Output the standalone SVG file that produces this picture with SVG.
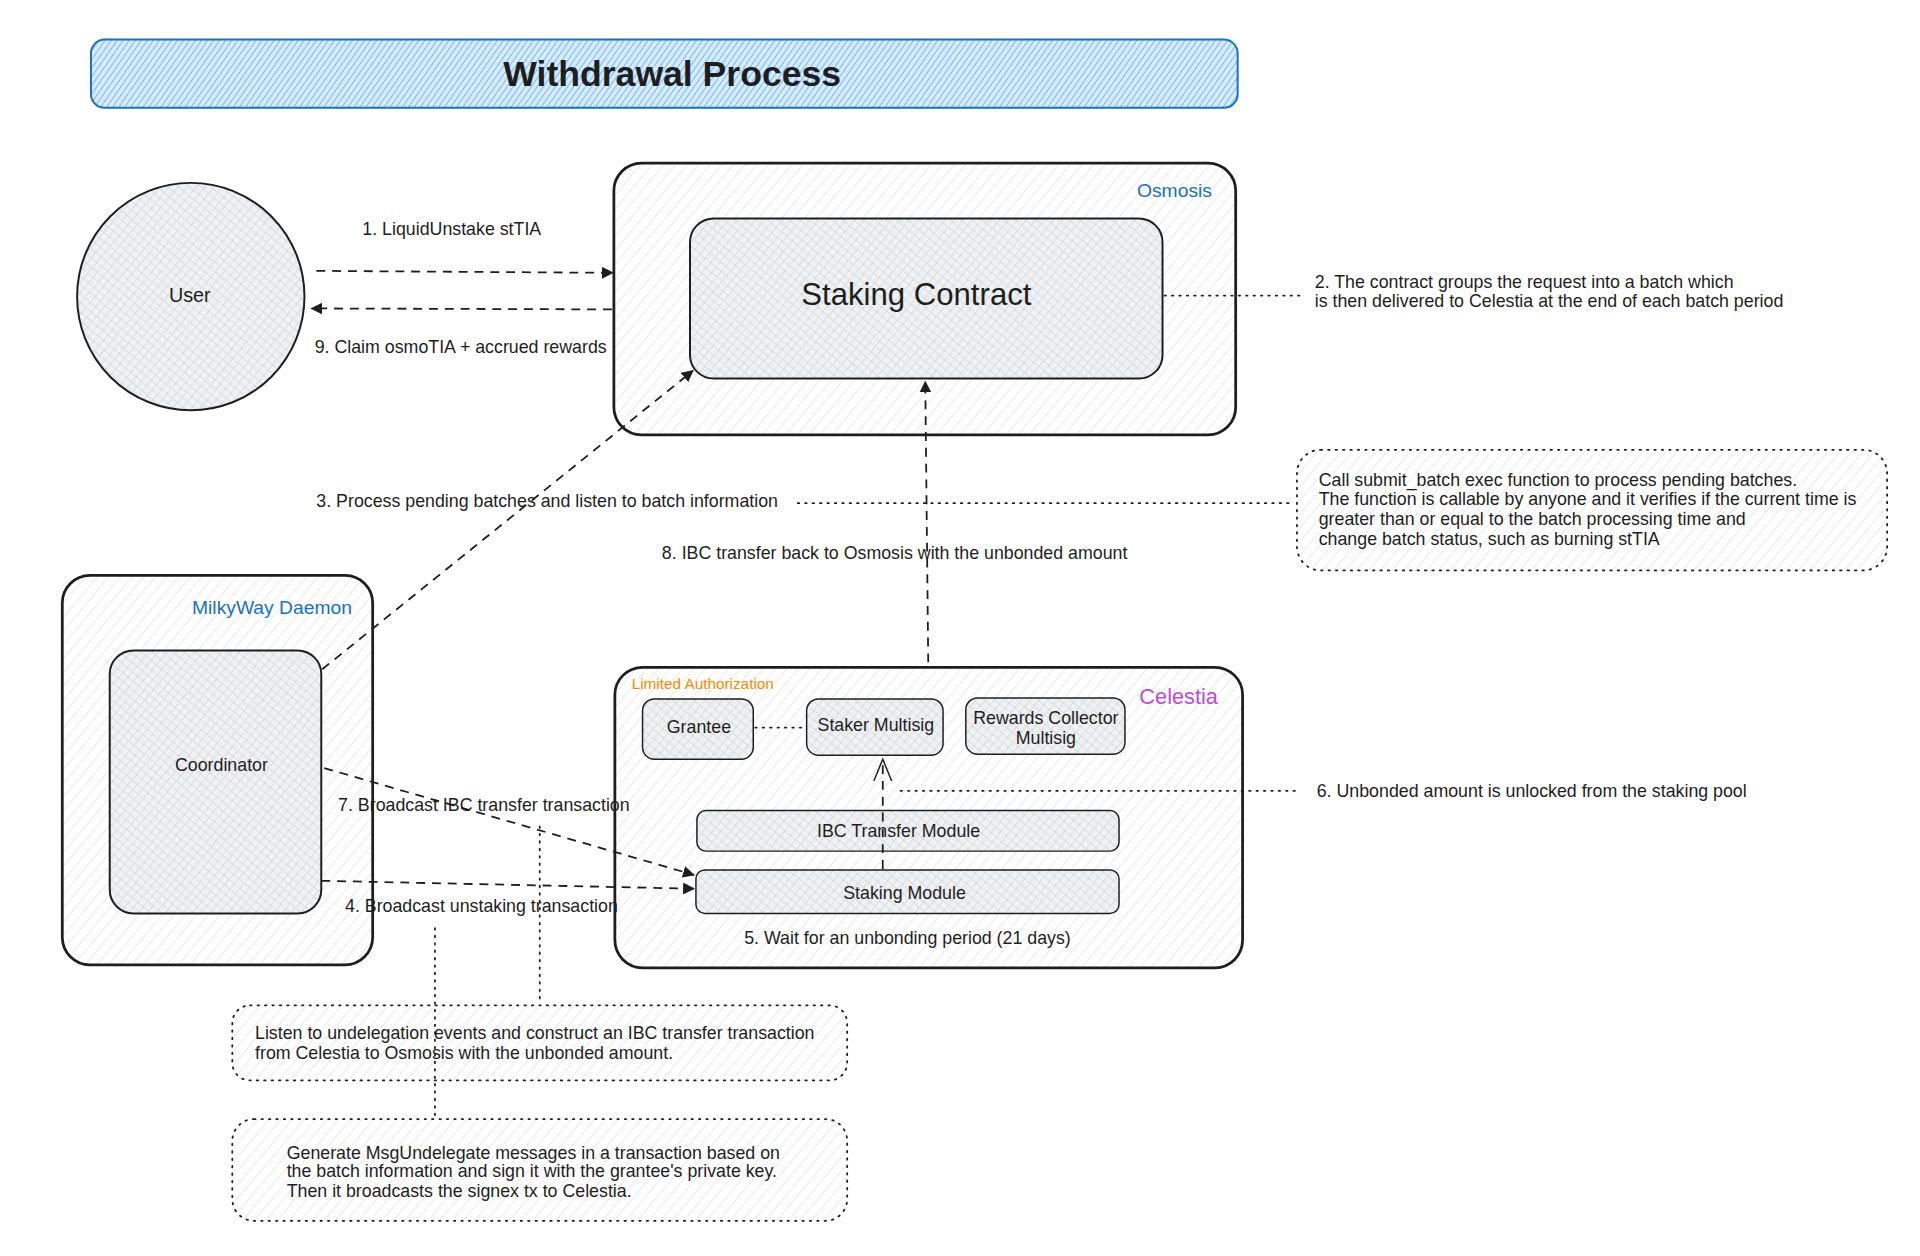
<svg xmlns="http://www.w3.org/2000/svg" width="1920" height="1256" viewBox="0 0 1920 1256">
<defs>
<pattern id="hatch" width="9" height="9" patternUnits="userSpaceOnUse" patternTransform="rotate(40)">
<line x1="0" y1="0" x2="0" y2="9" stroke="#d9dcdf" stroke-width="1.2"/>
</pattern>
<pattern id="cross" width="7" height="7" patternUnits="userSpaceOnUse" patternTransform="rotate(40)">
<rect width="7" height="7" fill="#eef0f2"/>
<line x1="0" y1="0" x2="0" y2="7" stroke="#c9ced3" stroke-width="1"/>
<line x1="0" y1="0" x2="7" y2="0" stroke="#c9ced3" stroke-width="1"/>
</pattern>
<pattern id="blue" width="5" height="5" patternUnits="userSpaceOnUse" patternTransform="rotate(35)">
<rect width="5" height="5" fill="#d6ebff"/>
<line x1="0" y1="0" x2="0" y2="5" stroke="#4a9cf0" stroke-width="1.3"/>
</pattern>
<marker id="tri" viewBox="0 0 12 12" refX="11" refY="6" markerWidth="12" markerHeight="12" markerUnits="userSpaceOnUse" orient="auto">
<path d="M0,0 L12,6 L0,12 z" fill="#1e1e1e"/>
</marker>
<marker id="open" viewBox="0 0 24 24" refX="22" refY="12" markerWidth="24" markerHeight="24" markerUnits="userSpaceOnUse" orient="auto">
<path d="M0,3 L22,12 L0,21" fill="none" stroke="#1e1e1e" stroke-width="1.5"/>
</marker>
</defs>
<style>
text{font-family:"Liberation Sans","DejaVu Sans",sans-serif;fill:#1e1e1e}
.t{font-size:18px}
.m{font-size:18px;text-anchor:middle}
.outer{fill:url(#hatch);stroke:#1e1e1e;stroke-width:2.8}
.inner{fill:url(#cross);stroke:#1e1e1e;stroke-width:2}
.small{fill:url(#cross);stroke:#1e1e1e;stroke-width:1.5}
.note{fill:url(#hatch);stroke:#1e1e1e;stroke-width:1.8;stroke-dasharray:1.5 6;stroke-linecap:round}
.dash{fill:none;stroke:#1e1e1e;stroke-width:1.8;stroke-dasharray:9 7}
.dot{fill:none;stroke:#1e1e1e;stroke-width:1.8;stroke-dasharray:1.5 6;stroke-linecap:round}
</style>
<rect width="1920" height="1256" fill="#ffffff"/>
<g id="diagram" transform="scale(0.98854)">

<g id="title">
<rect x="92" y="40" width="1160" height="69" rx="14" fill="url(#blue)" stroke="#1971c2" stroke-width="2"/>
<text x="680" y="87" font-size="36" text-anchor="middle" font-weight="bold">Withdrawal Process</text>
</g>

<g id="user">
<circle cx="193" cy="300" r="115" fill="url(#cross)" stroke="#1e1e1e" stroke-width="2"/>
<text x="192" y="306" font-size="20" text-anchor="middle">User</text>
</g>

<g id="osmosis">
<rect x="621" y="165" width="629" height="275" rx="28" class="outer"/>
<text x="1226" y="199" font-size="19.5" text-anchor="end" style="fill:#1971c2">Osmosis</text>
</g>

<g id="staking-contract">
<rect x="698" y="221" width="478" height="162" rx="24" class="inner" stroke-width="2.5"/>
<text x="927" y="309" font-size="31.5" text-anchor="middle">Staking Contract</text>
</g>

<g id="milkyway">
<rect x="63" y="582" width="314" height="394" rx="28" class="outer"/>
<text x="356" y="621" font-size="19.5" text-anchor="end" style="fill:#1971c2">MilkyWay Daemon</text>
</g>

<g id="coordinator">
<rect x="111" y="658" width="214" height="266" rx="24" class="inner" stroke-width="1.8"/>
<text x="224" y="780" class="m">Coordinator</text>
</g>

<g id="celestia">
<rect x="622" y="675" width="635" height="304" rx="28" class="outer"/>
<text x="1232" y="712" font-size="22" text-anchor="end" style="fill:#be4bdb">Celestia</text>
<text x="639" y="697" font-size="15.5" style="fill:#f08c00">Limited Authorization</text>
<text x="918" y="955" class="m">5. Wait for an unbonding period (21 days)</text>
</g>

<g id="grantee">
<rect x="650" y="707" width="112" height="61" rx="12" class="small"/>
<text x="707" y="742" class="m">Grantee</text>
</g>

<g id="staker-multisig">
<rect x="816" y="707" width="138" height="57" rx="12" class="small"/>
<text x="886" y="739" class="m">Staker Multisig</text>
</g>

<g id="rewards-collector">
<rect x="977" y="706" width="161" height="57" rx="12" class="small"/>
<text x="1058" y="732" class="m">Rewards Collector</text>
<text x="1058" y="753" class="m">Multisig</text>
</g>

<g id="ibc-transfer-module">
<rect x="705" y="820" width="427" height="41" rx="9" class="small"/>
<text x="909" y="847" class="m">IBC Transfer Module</text>
</g>

<g id="staking-module">
<rect x="704" y="880" width="428" height="44" rx="9" class="small"/>
<text x="915" y="909" class="m">Staking Module</text>
</g>

<g id="note-batch">
<rect x="1312" y="455" width="597" height="122" rx="24" class="note"/>
<text x="1334" y="492" class="t">Call submit_batch exec function to process pending batches.</text>
<text x="1334" y="511" class="t">The function is callable by anyone and it verifies if the current time is</text>
<text x="1334" y="531" class="t">greater than or equal to the batch processing time and</text>
<text x="1334" y="551" class="t">change batch status, such as burning stTIA</text>
</g>

<g id="note-listen">
<rect x="235" y="1017" width="622" height="76" rx="18" class="note"/>
<text x="258" y="1051" class="t">Listen to undelegation events and construct an IBC transfer transaction</text>
<text x="258" y="1071" class="t">from Celestia to Osmosis with the unbonded amount.</text>
</g>

<g id="note-generate">
<rect x="235" y="1132" width="622" height="103" rx="22" class="note"/>
<text x="290" y="1172" class="t">Generate MsgUndelegate messages in a transaction based on</text>
<text x="290" y="1191" class="t">the batch information and sign it with the grantee's private key.</text>
<text x="290" y="1211" class="t">Then it broadcasts the signex tx to Celestia.</text>
</g>

<g id="connectors">
<path d="M320,274 L620,276" class="dash" marker-end="url(#tri)"/>
<path d="M619,313 L315,312" class="dash" marker-end="url(#tri)"/>
<path d="M1178,299 L1320,299" class="dot"/>
<path d="M326,677 L701,375" class="dash" marker-end="url(#tri)"/>
<path d="M807,509 L1308,509" class="dot"/>
<path d="M939,670 L936,386" class="dash" marker-end="url(#tri)"/>
<path d="M328,777 L702,885" class="dash" marker-end="url(#tri)"/>
<path d="M325,891 L702,899" class="dash" marker-end="url(#tri)"/>
<path d="M893,879 L893,768" class="dash" marker-end="url(#open)"/>
<path d="M764,736 L814,736" class="dot"/>
<path d="M911,800 L1313,800" class="dot"/>
<path d="M546,836 L546,1015" class="dot"/>
<path d="M440,939 L440,1131" class="dot"/>
</g>

<g id="labels">
<text x="457" y="238" class="m">1. LiquidUnstake stTIA</text>
<text x="466" y="357" class="m">9. Claim osmoTIA + accrued rewards</text>
<text x="1330" y="291" class="t">2. The contract groups the request into a batch which</text>
<text x="1330" y="311" class="t">is then delivered to Celestia at the end of each batch period</text>
<text x="320" y="513" class="t">3. Process pending batches and listen to batch information</text>
<text x="905" y="565" class="m">8. IBC transfer back to Osmosis with the unbonded amount</text>
<text x="342" y="820" class="t">7. Broadcast IBC transfer transaction</text>
<text x="349" y="923" class="t">4. Broadcast unstaking transaction</text>
<text x="1332" y="806" class="t">6. Unbonded amount is unlocked from the staking pool</text>
</g>
</g>
</svg>
